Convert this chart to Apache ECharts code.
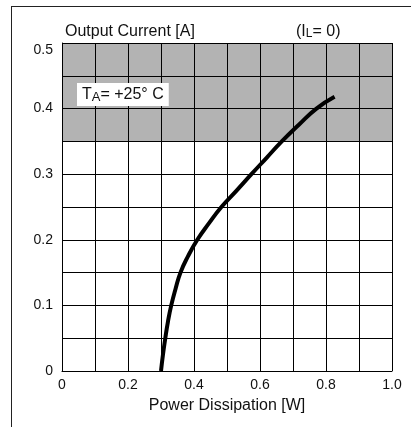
<!DOCTYPE html>
<html>
<head>
<meta charset="utf-8">
<style>
  html, body { margin: 0; padding: 0; background: #fff; }
  #chart { width: 411px; height: 427px; }
</style>
<script src="https://cdn.jsdelivr.net/npm/echarts@6/dist/echarts.min.js"></script>
</head>
<body>
<div id="chart"></div>
<script>
// Output current vs. power dissipation (IL = 0, TA = +25 °C)
const powerW = [0.300, 0.306, 0.313, 0.321, 0.331, 0.344, 0.359, 0.382, 0.410, 0.445, 0.483,
                0.529, 0.574, 0.620, 0.666, 0.717, 0.771, 0.826];
const currentA = [0.000, 0.025, 0.050, 0.075, 0.100, 0.125, 0.150, 0.175, 0.200, 0.225, 0.250,
                  0.275, 0.300, 0.325, 0.350, 0.375, 0.400, 0.418];
// Shaded band of the current axis
const shadedBand = [0.35, 0.5];
const xTicks = [0, 0.2, 0.4, 0.6, 0.8, 1.0];
const yTicks = [0, 0.1, 0.2, 0.3, 0.4, 0.5];

const Y_MIN = 0, Y_MAX = 0.5, Y_STEP = 0.05;
const FONT = '"Liberation Sans", Arial, sans-serif';
const chart = echarts.init(document.getElementById('chart'), null, { renderer: 'canvas' });

const curve = powerW.map((p, i) => [p, currentA[i]]);

// One fill colour per horizontal grid band: grey inside the shaded band
const bandColors = [];
for (let i = 0; i < Math.round((Y_MAX - Y_MIN) / Y_STEP); i++) {
  const lo = Y_MIN + i * Y_STEP;
  bandColors.push(lo >= shadedBand[0] - 1e-9 && lo < shadedBand[1] ? '#b3b3b3' : '#ffffff');
}

chart.setOption({
  animation: false,
  backgroundColor: '#fff',
  grid: { left: 62, right: 19, top: 43, bottom: 56, containLabel: false },
  title: [
    {
      text: 'Output Current [A]', left: 60, top: 19,
      textStyle: { fontFamily: FONT, fontSize: 16, fontWeight: 'normal', color: '#111' }
    },
    {
      text: '(I{s|L}= 0)', left: 291, top: 19,
      textStyle: {
        fontFamily: FONT, fontSize: 16, fontWeight: 'normal', color: '#111',
        rich: { s: { fontFamily: FONT, fontSize: 12, color: '#111', verticalAlign: 'bottom', padding: [3, 0, 0, 0] } }
      }
    }
  ],
  xAxis: {
    type: 'value', min: 0, max: 1.0, interval: 0.1,
    name: 'Power Dissipation [W]', nameLocation: 'middle', nameGap: 27,
    nameTextStyle: { fontFamily: FONT, fontSize: 16, color: '#111' },
    axisLine: { show: true, lineStyle: { color: '#000', width: 1 } },
    axisTick: { show: false },
    splitLine: { show: true, lineStyle: { color: '#000', width: 1 } },
    axisLabel: {
      fontFamily: FONT, fontSize: 14, color: '#111', margin: 7,
      customValues: xTicks,
      formatter: v => (v === 0 ? '0' : v.toFixed(1))
    }
  },
  yAxis: {
    type: 'value', min: Y_MIN, max: Y_MAX, interval: Y_STEP,
    axisLine: { show: true, lineStyle: { color: '#000', width: 1 } },
    axisTick: { show: false },
    splitLine: { show: true, lineStyle: { color: '#000', width: 1 } },
    splitArea: { show: true, areaStyle: { color: bandColors } },
    axisLabel: {
      fontFamily: FONT, fontSize: 14, color: '#111', margin: 9,
      customValues: yTicks,
      verticalAlignMaxLabel: 'top',
      formatter: v => (v === 0 ? '0' : String(Math.round(v * 10) / 10))
    }
  },
  series: [
    {
      type: 'line', data: curve, smooth: 0.5, showSymbol: false, z: 5,
      lineStyle: { color: '#000', width: 4, cap: 'butt' }
    }
  ],
  graphic: [
    {
      type: 'text', left: 77, top: 83, z: 10,
      style: {
        text: 'T{sub|A}= +25° C',
        fontFamily: FONT, fontSize: 16, fill: '#111',
        backgroundColor: '#fff', padding: [2, 5, 2, 5],
        rich: { sub: { fontFamily: FONT, fontSize: 13, fill: '#111', verticalAlign: 'bottom', padding: [6, 0, 0, 0] } }
      }
    },
    { type: 'line', shape: { x1: 11, y1: 6.5, x2: 411, y2: 6.5 }, style: { stroke: '#222', lineWidth: 1 } },
    { type: 'line', shape: { x1: 11.5, y1: 6, x2: 11.5, y2: 427 }, style: { stroke: '#222', lineWidth: 1 } }
  ]
});
</script>
</body>
</html>
